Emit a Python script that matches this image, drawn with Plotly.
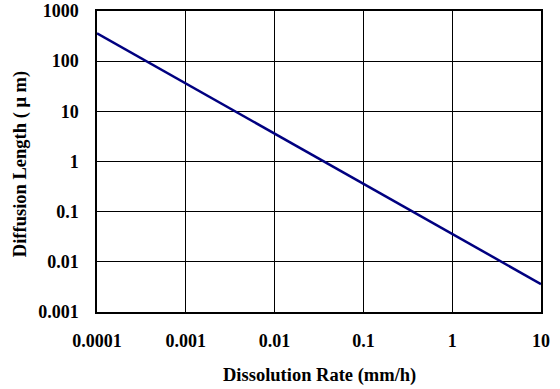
import plotly.graph_objects as go

# Dissolution rate (mm/h) vs. diffusion length (um)
rate = [0.0001, 0.001, 0.01, 0.1, 1, 10]
length = [360, 36, 3.6, 0.36, 0.036, 0.0036]

x_ticks = [0.0001, 0.001, 0.01, 0.1, 1, 10]
x_labels = ["0.0001", "0.001", "0.01", "0.1", "1", "10"]
y_ticks = [0.001, 0.01, 0.1, 1, 10, 100, 1000]
y_labels = ["0.001", "0.01", "0.1", "1", "10", "100", "1000"]

font_family = "Liberation Serif"

fig = go.Figure()
fig.add_trace(go.Scatter(
    x=rate, y=length, mode="lines",
    line=dict(color="#000080", width=2.5),
    showlegend=False,
))

axis_common = dict(
    showline=True, linecolor="black", linewidth=1.5, mirror=True,
    showgrid=True, gridcolor="black", gridwidth=1,
    zeroline=False, ticks="", automargin=False,
    tickfont=dict(family=font_family, size=18, color="black", weight="bold"),
)

fig.update_xaxes(
    type="log", range=[-4, 1],
    tickvals=x_ticks, ticktext=x_labels,
    ticklabelstandoff=12,
    **axis_common,
)
fig.update_yaxes(
    type="log", range=[-3, 3],
    tickvals=y_ticks, ticktext=y_labels,
    ticklabelstandoff=13,
    **axis_common,
)

fig.add_annotation(
    text="<b>Dissolution Rate (mm/h)</b>", xref="paper", yref="paper",
    x=0.5, y=-0.21, yanchor="middle", showarrow=False,
    font=dict(family=font_family, size=18.5, color="black"),
)
fig.add_annotation(
    text="<b>Diffusion Length ( \u03bc m)</b>", xref="paper", yref="paper",
    x=-0.172, y=0.49, xanchor="center", yanchor="middle",
    textangle=-90, showarrow=False,
    font=dict(family=font_family, size=18.5, color="black"),
)

fig.update_layout(
    width=560, height=389,
    margin=dict(l=97, r=19, t=11, b=77),
    plot_bgcolor="white", paper_bgcolor="white",
)

fig.write_html("out.html")
